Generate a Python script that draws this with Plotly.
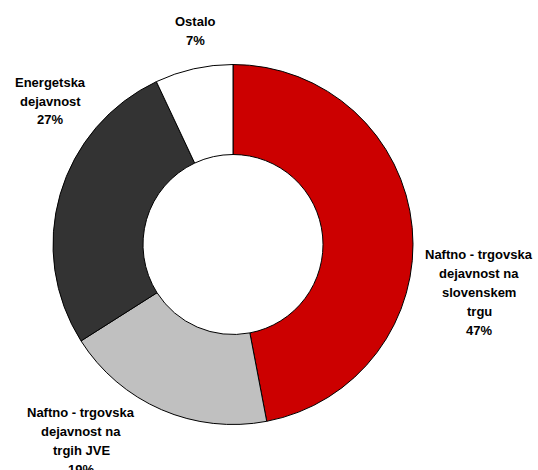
import plotly.graph_objects as go

W, H = 538, 470

# slice data, clockwise from 12 o'clock
labels = [
    "Naftno - trgovska<br>dejavnost na<br>slovenskem<br>trgu",
    "Naftno - trgovska<br>dejavnost na<br>trgih JVE",
    "Energetska<br>dejavnost",
    "Ostalo",
]
values = [47, 19, 27, 7]
colors = ["#CC0000", "#C0C0C0", "#333333", "#FFFFFF"]

# label anchor (pixel) of the first text line for each slice
label_pos = [(479, 254), (81, 412), (50, 82), (195, 21)]
LINE = 19

CX, CY, R = 233, 244.5, 180

fig = go.Figure()
fig.add_trace(go.Pie(
    values=values,
    labels=[l.replace("<br>", " ") for l in labels],
    marker=dict(colors=colors, line=dict(color="#000000", width=1)),
    hole=0.5,
    sort=False,
    direction="clockwise",
    rotation=0,
    textinfo="none",
    hoverinfo="label+percent",
    domain=dict(x=[(CX - R) / W, (CX + R) / W],
                y=[(H - CY - R) / H, (H - CY + R) / H]),
    showlegend=False,
))

for lab, val, (px, py) in zip(labels, values, label_pos):
    lines = lab.split("<br>") + ["%d%%" % val]
    for i, t in enumerate(lines):
        fig.add_annotation(
            x=px / W, y=1 - (py + i * LINE) / H,
            xref="paper", yref="paper",
            text="<b>%s</b>" % t, showarrow=False,
            xanchor="center", yanchor="middle",
            font=dict(family="Liberation Sans, Arial", size=13, color="#000000"),
        )

fig.update_layout(
    width=W, height=H,
    margin=dict(l=0, r=0, t=0, b=0),
    paper_bgcolor="#FFFFFF",
    plot_bgcolor="#FFFFFF",
)

# page body has an 8px default margin; drop it so the figure fills the window
fig.write_html("out.html", config={"displayModeBar": False},
               post_script="document.body.style.margin='0px';")
